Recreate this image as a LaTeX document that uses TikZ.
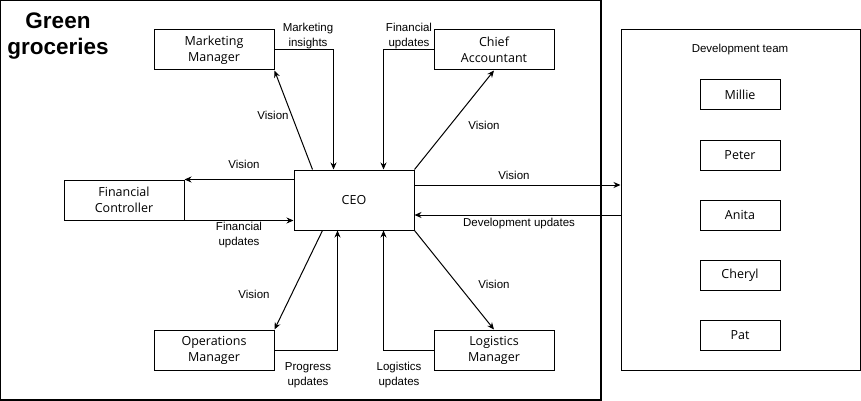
\documentclass[tikz,border=0pt]{standalone}
\usepackage{fontspec}
\setmainfont{Liberation Sans}
\newfontfamily\boxfont{Open Sans}
\usetikzlibrary{arrows.meta,calc}
\begin{document}
\begin{tikzpicture}[x=1pt,y=-1pt,
  box/.style={draw,line width=1pt,minimum width=120pt,minimum height=40pt,inner sep=0pt,align=center,font=\boxfont\fontsize{12.5}{16}\selectfont},
  member/.style={draw,line width=1pt,minimum width=80pt,minimum height=30pt,inner sep=0pt,align=center,font=\boxfont\fontsize{12.5}{16}\selectfont},
  lbl/.style={inner sep=0pt,align=center,font=\fontsize{11.5}{14.5}\selectfont},
  arr/.style={line width=1pt,-{Stealth[length=7pt,width=6pt]}},
  ln/.style={line width=1pt}]
\useasboundingbox (0,0) rectangle (861,401);
\draw[line width=1.2pt] (0.6,0.6) rectangle (601,400);
\node[inner sep=0pt,align=center,font=\bfseries\fontsize{22.5}{26}\selectfont] (title) at (58,36) {Green\\groceries};
\node[box] (mm) at (214,50) {Marketing\\Manager};
\node[box] (ca) at (494,50) {Chief\\Accountant};
\node[box] (fc) at (124,200) {Financial\\Controller};
\node[box,minimum height=60pt] (ceo) at (354,200) {CEO};
\node[box] (om) at (214,350) {Operations\\Manager};
\node[box] (lm) at (494,350) {Logistics\\Manager};
\node[draw,line width=1pt,minimum width=239pt,minimum height=340pt,inner sep=0pt] (dev) at (740.5,200) {};
\node[lbl] (devlbl) at (740,50) {Development team};
\node[member] (m1) at (740,95) {Millie};
\node[member] (m2) at (740,155) {Peter};
\node[member] (m3) at (740,215) {Anita};
\node[member] (m4) at (740,275) {Cheryl};
\node[member] (m5) at (740,335) {Pat};
% connectors
\draw[arr] ($(ceo.north west)+(19,0)$) -- (mm.south east);
\draw[arr] (mm.east) -| ($(ceo.north west)+(40,0)$);
\draw[arr] (ca.west) -| ($(ceo.north west)+(90,0)$);
\draw[arr] (ceo.north east) -- (ca.south);
\draw[arr] ($(ceo.north west)+(0,10)$) -- (fc.north east);
\draw[arr] (fc.south east) -- ($(ceo.south west)+(0,-10)$);
\coordinate (dv1) at ($(ceo.east)+(0,-15)$);
\coordinate (dv2) at ($(ceo.east)+(0,15)$);
\draw[arr] (dv1) -- (dev.west |- dv1);
\draw[arr] (dev.west |- dv2) -- (dv2);
\draw[arr] ($(ceo.south west)+(29,0)$) -- (om.north east);
\draw[arr] (om.east) -| ($(ceo.south west)+(44,0)$);
\draw[arr] (lm.west) -| ($(ceo.south west)+(90,0)$);
\draw[arr] (ceo.south east) -- (lm.north);
% labels
\node[lbl] (l1) at (308,36) {Marketing\\insights};
\node[lbl] (l2) at (409,36) {Financial\\updates};
\node[lbl] (l3) at (273,115) {Vision};
\node[lbl] (l4) at (484,125) {Vision};
\node[lbl] (l5) at (244,164) {Vision};
\node[lbl] (l6) at (239,235) {Financial\\updates};
\node[lbl] (l7) at (514,175) {Vision};
\node[lbl] (l8) at (519,224) {Development updates};
\node[lbl] (l9) at (254,294) {Vision};
\node[lbl] (l10) at (494,284) {Vision};
\node[lbl] (l11) at (308,375) {Progress\\updates};
\node[lbl] (l12) at (399,375) {Logistics\\updates};
\end{tikzpicture}
\end{document}
